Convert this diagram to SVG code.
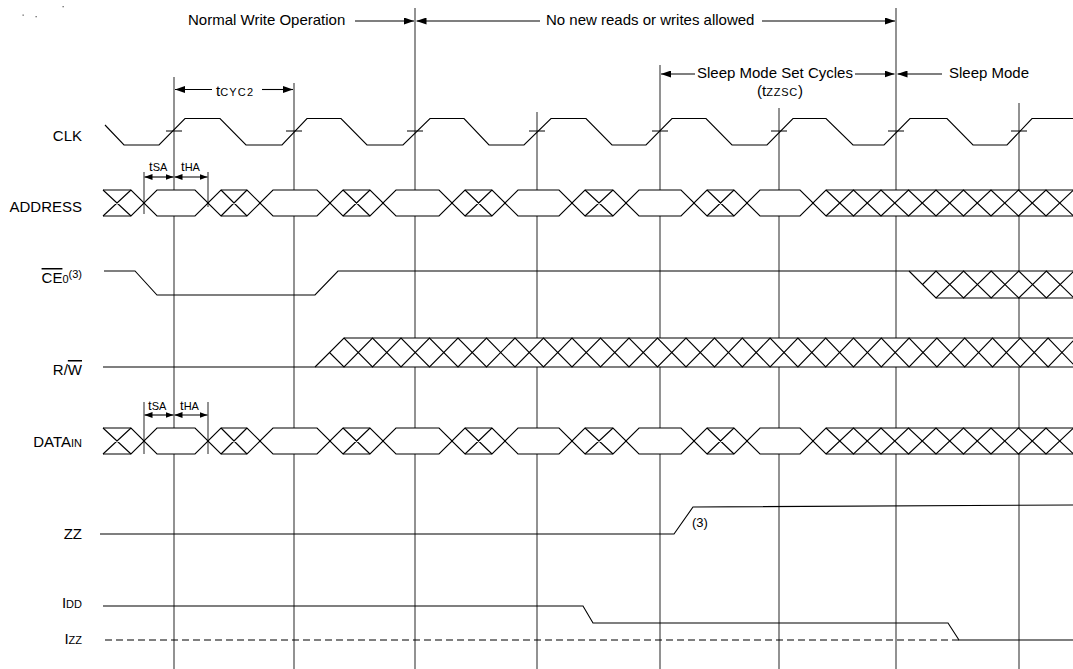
<svg xmlns="http://www.w3.org/2000/svg" xmlns:xlink="http://www.w3.org/1999/xlink" width="1073" height="669" viewBox="0 0 1073 669">
<style>
.sig{fill:none;stroke:#000;stroke-width:1.1;stroke-linejoin:miter}
.grid{fill:none;stroke:#3a3a3a;stroke-width:1.1}
.arr{fill:none;stroke:#000;stroke-width:1.1}
.lbl{font-family:"Liberation Sans",Arial,Helvetica,sans-serif;font-size:15px;fill:#000}
.sm{font-size:11px}
.dash{stroke-dasharray:7 4}
</style>
<defs>
<marker id="ah" markerUnits="userSpaceOnUse" markerWidth="10" markerHeight="7" refX="10" refY="3.5" orient="auto"><path d="M0,0 L10,3.5 L0,7 z" fill="#000"/></marker>
<marker id="as" markerUnits="userSpaceOnUse" markerWidth="8" markerHeight="6" refX="8" refY="3" orient="auto-start-reverse"><path d="M0,0 L8,3 L0,6 z" fill="#000"/></marker>
<g id="busAD">
<path class="sig" d="M103,190 H131 L144,203 L157,190 H195 L208,203 L221,190 H247 L260,203 L273,190 H317 L330,203 L343,190 H370 L383,203 L396,190 H439 L452,203 L465,190 H492 L505,203 L518,190 H559 L572,203 L585,190 H613 L626,203 L639,190 H681 L694,203 L707,190 H734 L747,203 L760,190 H800 L813,203 L826,190 H1073"/>
<path class="sig" d="M103,216 H131 L144,203 L157,216 H195 L208,203 L221,216 H247 L260,203 L273,216 H317 L330,203 L343,216 H370 L383,203 L396,216 H439 L452,203 L465,216 H492 L505,203 L518,216 H559 L572,203 L585,216 H613 L626,203 L639,216 H681 L694,203 L707,216 H734 L747,203 L760,216 H800 L813,203 L826,216 H1073"/>
<path class="sig" d="M103,190 L131,216 M103,216 L131,190 M221,190 L247,216 M221,216 L247,190 M343,190 L370,216 M343,216 L370,190 M465,190 L492,216 M465,216 L492,190 M585,190 L613,216 M585,216 L613,190 M707,190 L734,216 M707,216 L734,190"/>
<path class="sig" d="M826,190 L853.5,216 L881,190 L908.5,216 L936,190 L963.5,216 L991,190 L1018.5,216 L1046,190 L1073.5,216"/>
<path class="sig" d="M826,216 L853.5,190 L881,216 L908.5,190 L936,216 L963.5,190 L991,216 L1018.5,190 L1046,216 L1073.5,190"/>
</g>
</defs>
<rect width="1073" height="669" fill="#fff"/>

<g id="specks" fill="#666">
<rect x="22.5" y="14.5" width="1.3" height="1.3"/>
<rect x="35.5" y="16" width="1.3" height="1.3"/>
<rect x="62.5" y="6" width="1.3" height="1.3"/>
</g>

<g id="connectors">
<path class="grid" d="M174,77 V190 M174,216 V428 M174,454 V669
M294,83 V190 M294,216 V428 M294,454 V669
M415,8 V190 M415,216 V338 M415,367 V428 M415,454 V669
M537,112 V190 M537,216 V338 M537,367 V428 M537,454 V669
M660,65 V190 M660,216 V338 M660,367 V428 M660,454 V669
M779,108 V190 M779,216 V338 M779,367 V428 M779,454 V669
M896,8 V190 M896,216 V338 M896,367 V428 M896,454 V669
M1019,103 V190 M1019,216 V271 M1019,298 V338 M1019,367 V428 M1019,454 V669"/>
<path class="sig" d="M166,131 H182 M286,131 H302 M407,131 H423 M529,131 H545 M652,131 H668 M771,131 H787 M888,131 H904 M1011,131 H1027"/>
<line class="arr" x1="355" y1="21" x2="414" y2="21" marker-end="url(#ah)"/>
<line class="arr" x1="540" y1="21" x2="416.5" y2="21" marker-end="url(#ah)"/>
<line class="arr" x1="762" y1="21" x2="895" y2="21" marker-end="url(#ah)"/>
<line class="arr" x1="695" y1="74" x2="661" y2="74" marker-end="url(#ah)"/>
<line class="arr" x1="855" y1="74" x2="894.5" y2="74" marker-end="url(#ah)"/>
<line class="arr" x1="942" y1="74" x2="897.5" y2="74" marker-end="url(#ah)"/>
<line class="arr" x1="212" y1="89.5" x2="175" y2="89.5" marker-end="url(#ah)"/>
<line class="arr" x1="262" y1="89.5" x2="293" y2="89.5" marker-end="url(#ah)"/>
<path class="grid" d="M144,172 V214 M208,172 V207 M144,402 V454 M208,402 V454"/>
<line class="arr" x1="144.5" y1="177" x2="173.5" y2="177" marker-start="url(#as)" marker-end="url(#as)"/>
<line class="arr" x1="174.5" y1="177" x2="207.5" y2="177" marker-start="url(#as)" marker-end="url(#as)"/>
<line class="arr" x1="144.5" y1="415" x2="173.5" y2="415" marker-start="url(#as)" marker-end="url(#as)"/>
<line class="arr" x1="174.5" y1="415" x2="207.5" y2="415" marker-start="url(#as)" marker-end="url(#as)"/>
</g>

<g id="annotations" class="lbl">
<text x="188" y="25">Normal Write Operation</text>
<text x="546" y="25">No new reads or writes allowed</text>
<text x="697" y="78">Sleep Mode Set Cycles</text>
<text x="949" y="78">Sleep Mode</text>
<text x="757" y="96">(t<tspan class="sm" letter-spacing="0.8">ZZSC</tspan>)</text>
<text x="216" y="96">t<tspan class="sm" letter-spacing="1.2">CYC2</tspan></text>
<text x="149" y="171" font-size="13">t<tspan font-size="11">SA</tspan></text>
<text x="181" y="171" font-size="13">t<tspan font-size="11">HA</tspan></text>
<text x="148" y="410" font-size="13">t<tspan font-size="11">SA</tspan></text>
<text x="180" y="410" font-size="13">t<tspan font-size="11">HA</tspan></text>
<text x="692" y="527" font-size="13">(3)</text>
</g>

<g id="clk">
<text class="lbl" x="82" y="141" text-anchor="end">CLK</text>
<path class="sig" d="M105,125 L124,145 L159,145 L185,118.5 L220,118.5 L246,145 L282,145 L307,118.5 L341,118.5 L367,145 L403,145 L430,118.5 L464,118.5 L489,145 L524,145 L551,118.5 L586,118.5 L612,145 L646,145 L672,118.5 L706,118.5 L732,145 L767,145 L793,118.5 L826,118.5 L853,145 L884,145 L910,118.5 L947,118.5 L973,145 L1007,145 L1032,118.5 L1073,118.5"/>
</g>

<g id="address">
<text class="lbl" x="82" y="212" text-anchor="end">ADDRESS</text>
<use xlink:href="#busAD" href="#busAD"/>
</g>

<g id="ce0">
<text class="lbl" x="82" y="283" text-anchor="end"><tspan text-decoration="overline">CE</tspan><tspan class="sm">0</tspan><tspan class="sm" dy="-5">(3)</tspan></text>
<path class="sig" d="M104,271 L135,271 L157,295 L315,295 L338,271 L1073,271"/>
<path class="sig" d="M936,298 H1073"/>
<path class="sig" d="M909,271 L936,298 L963.6,271 L991.2,298 L1018.8,271 L1046.4,298 L1074,271"/>
<path class="sig" d="M922.5,284.5 L936,271 L963.6,298 L991.2,271 L1018.8,298 L1046.4,271 L1074,298"/>
</g>

<g id="rw">
<text class="lbl" x="82" y="375" text-anchor="end">R/<tspan text-decoration="overline">W</tspan></text>
<path class="sig" d="M103,367 H1073 M344,338 H1073"/>
<path class="sig" d="M315,367 L344,338 L372.5,367 L401,338 L429.5,367 L458,338 L486.5,367 L515,338 L543.5,367 L572,338 L600.5,367 L629,338 L657.5,367 L686,338 L714.5,367 L742.3,338 L770.1,367 L797.9,338 L825.7,367 L853.5,338 L881.3,367 L909.1,338 L936.9,367 L964.7,338 L992.5,367 L1020.3,338 L1048.1,367 L1075.9,338"/>
<path class="sig" d="M329.5,352.5 L344,367 L372.5,338 L401,367 L429.5,338 L458,367 L486.5,338 L515,367 L543.5,338 L572,367 L600.5,338 L629,367 L657.5,338 L686,367 L714.5,338 L742.3,367 L770.1,338 L797.9,367 L825.7,338 L853.5,367 L881.3,338 L909.1,367 L936.9,338 L964.7,367 L992.5,338 L1020.3,367 L1048.1,338 L1075.9,367"/>
</g>

<g id="datain">
<text class="lbl" x="82" y="447" text-anchor="end">DATA<tspan class="sm">IN</tspan></text>
<use xlink:href="#busAD" href="#busAD" y="238"/>
</g>

<g id="zz">
<text class="lbl" x="82" y="539" text-anchor="end">ZZ</text>
<path class="sig" d="M100,534 L674,534 L693,507 L1073,505"/>
</g>

<g id="idd">
<text class="lbl" x="82" y="608" text-anchor="end">I<tspan class="sm">DD</tspan></text>
<path class="sig" d="M103,606 L583,606 L593,623 L948,623 L959,640 L1073,640"/>
</g>

<g id="izz">
<text class="lbl" x="82" y="644" text-anchor="end">I<tspan class="sm">ZZ</tspan></text>
<path class="sig dash" d="M105,640 H959"/>
</g>
</svg>
